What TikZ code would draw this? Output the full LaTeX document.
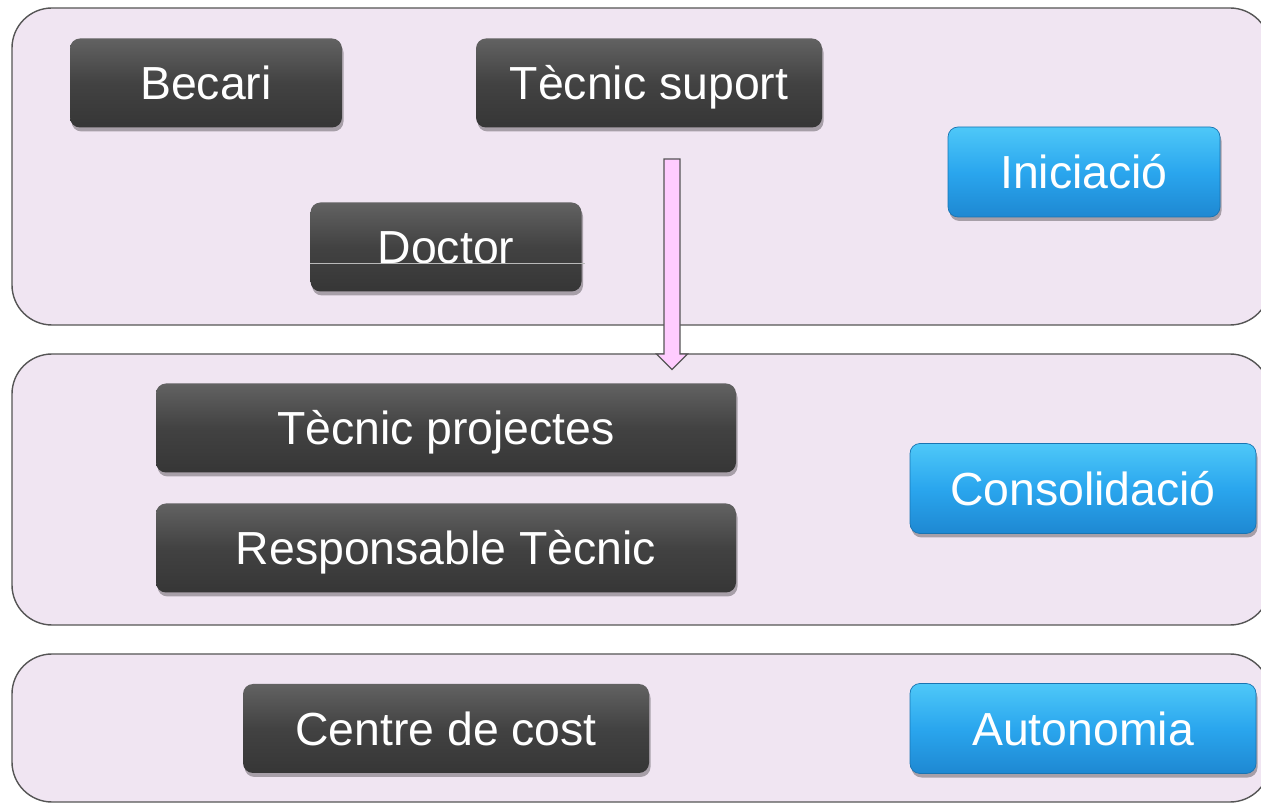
\documentclass[tikz,border=0pt]{standalone}
\usepackage{fontspec}
\setmainfont{Liberation Sans}
\usetikzlibrary{shadows}

\definecolor{lvlfill}{RGB}{240,229,242}
\definecolor{lvldraw}{RGB}{85,85,85}
\definecolor{roletop}{RGB}{98,98,98}
\definecolor{rolemid}{RGB}{66,66,66}
\definecolor{rolebot}{RGB}{54,54,54}
\definecolor{stagetop}{RGB}{78,200,248}
\definecolor{stagemid}{RGB}{42,166,238}
\definecolor{stagebot}{RGB}{30,136,210}
\definecolor{arrowfill}{RGB}{255,204,255}

\begin{document}
\begin{tikzpicture}[
	level/.style={draw=lvldraw, line width=0.8pt, fill=lvlfill, rounded corners=0.8cm},
	role/.style={rectangle, rounded corners=0.2cm, top color=roletop, bottom color=rolebot, middle color=rolemid, text=white, minimum height=1.78cm, inner sep=0pt, text height=0.67cm, text depth=0cm, font=\fontsize{26.4}{31}\selectfont, drop shadow={shadow xshift=0.03cm, shadow yshift=-0.08cm, opacity=0.3, fill=black}},
	stage/.style={role, top color=stagetop, bottom color=stagebot, middle color=stagemid, draw=stagebot!85!black, line width=0.4pt, minimum height=1.8cm},
	bigarrow/.style={draw=lvldraw, line width=0.7pt, fill=arrowfill}
	]
		\useasboundingbox (0,0) rectangle (25.22,-16.06);
		\clip (0,0) rectangle (25.22,-16.06);
		
		\draw[level] (0.24,-0.16) rectangle (25.4,-6.5);
		\draw[level] (0.24,-7.08) rectangle (25.4,-12.5);
		\draw[level] (0.24,-13.08) rectangle (25.4,-16.04);
		
		\node[role, minimum width=5.44cm](BEC) at (4.12,-1.66){Becari};
		\node[role, right of=BEC, node distance=8.86cm, minimum width=6.92cm](TSU){Tècnic suport};
		\node[role, minimum width=5.42cm](DOC) at (8.92,-4.94){Doctor};
		\draw[gray!55, line width=0.3pt] ([yshift=-0.32cm]DOC.west) -- ([xshift=0.06cm, yshift=-0.32cm]DOC.east);
		
		\node[role, minimum width=11.6cm](TPR) at (8.92,-8.56){Tècnic projectes};
		\node[role, below of=TPR, node distance=2.4cm, minimum width=11.6cm](RTE){Responsable Tècnic};
		\node[role, below of=RTE, node distance=3.61cm, minimum width=8.12cm](CCO){Centre de cost};
		
		\node[stage, minimum width=5.44cm](INI) at (21.68,-3.44){Iniciació};
		\node[stage, minimum width=6.92cm](CON) at (21.66,-9.77){Consolidació};
		\node[stage, below of=CON, node distance=4.8cm, minimum width=6.92cm](AUT){Autonomia};
		
		\coordinate (ATOP) at (13.44,-3.18);
		\coordinate (ATIP) at (13.44,-7.39);
		\draw[bigarrow] ([xshift=-0.16cm]ATOP) -- ([xshift=0.16cm]ATOP) -- ([xshift=0.16cm, yshift=0.31cm]ATIP) -- ([xshift=0.31cm, yshift=0.31cm]ATIP) -- (ATIP) -- ([xshift=-0.31cm, yshift=0.31cm]ATIP) -- ([xshift=-0.16cm, yshift=0.31cm]ATIP) -- cycle;
\end{tikzpicture}
\end{document}
